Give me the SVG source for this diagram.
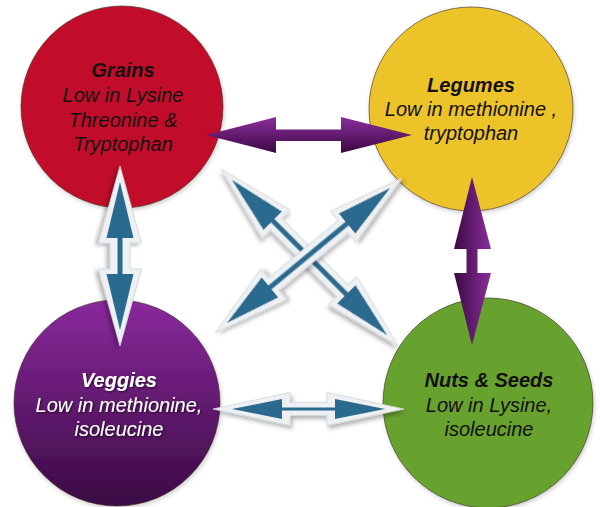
<svg xmlns="http://www.w3.org/2000/svg" width="600" height="507" viewBox="0 0 600 507">
  <defs>
    <style>
      .t { font-family: "Liberation Sans", Arial, sans-serif; font-style: italic; font-size: 20px; text-anchor: middle; }
      .b { font-weight: bold; }
      .dark { fill: #141010; }
      .light { fill: #ffffff; }
      .ring { stroke: #3a2a20; stroke-opacity: 0.6; stroke-width: 1; }
      .out { fill: #eef1f3; stroke: #cfd5d9; stroke-width: 0.8; stroke-linejoin: miter; }
      .in { fill: #2b6a8f; }
    </style>
    <linearGradient id="gVeg" x1="0" y1="0" x2="0" y2="1">
      <stop offset="0" stop-color="#8a2a9c"/>
      <stop offset="1" stop-color="#3a0a44"/>
    </linearGradient>
    <linearGradient id="gPH" x1="0" y1="0" x2="0" y2="1">
      <stop offset="0" stop-color="#8a2e9c"/>
      <stop offset="1" stop-color="#3c0842"/>
    </linearGradient>
    <linearGradient id="gPV" x1="0" y1="0" x2="1" y2="0">
      <stop offset="0" stop-color="#3c0842"/>
      <stop offset="1" stop-color="#8a2e9c"/>
    </linearGradient>
    <filter id="sh" x="-20%" y="-20%" width="140%" height="140%">
      <feDropShadow dx="2" dy="3" stdDeviation="2" flood-color="#000" flood-opacity="0.3"/>
    </filter>
    <filter id="csh" x="-10%" y="-10%" width="120%" height="120%">
      <feDropShadow dx="1" dy="2" stdDeviation="2" flood-color="#000" flood-opacity="0.2"/>
    </filter>
    <filter id="tsh" x="-10%" y="-30%" width="120%" height="160%">
      <feDropShadow dx="1" dy="1" stdDeviation="1" flood-color="#000" flood-opacity="0.7"/>
    </filter>
  </defs>
  <rect width="600" height="507" fill="#ffffff"/>

  <g id="grains">
    <circle cx="122" cy="107" r="101" fill="#c1112a" class="ring" filter="url(#csh)"/>
    <text class="t dark"><tspan class="b" x="123" y="77">Grains</tspan><tspan x="123" y="102">Low in Lysine</tspan><tspan x="123" y="127">Threonine &amp;</tspan><tspan x="123" y="151">Tryptophan</tspan></text>
  </g>
  <g id="legumes">
    <circle cx="471" cy="109" r="102" fill="#ecc42b" class="ring" filter="url(#csh)"/>
    <text class="t dark"><tspan class="b" x="471" y="92">Legumes</tspan><tspan x="471" y="116">Low in methionine ,</tspan><tspan x="471" y="140">tryptophan</tspan></text>
  </g>
  <g id="veggies">
    <circle cx="117" cy="403" r="103" fill="url(#gVeg)" class="ring" filter="url(#csh)"/>
    <text class="t light" filter="url(#tsh)"><tspan class="b" x="119" y="387">Veggies</tspan><tspan x="119" y="412">Low in methionine,</tspan><tspan x="119" y="436">isoleucine</tspan></text>
  </g>
  <g id="nuts">
    <circle cx="488" cy="403" r="105" fill="#67a22f" class="ring" filter="url(#csh)"/>
    <text class="t dark"><tspan class="b" x="489" y="387">Nuts &amp; Seeds</tspan><tspan x="489" y="412">Low in Lysine,</tspan><tspan x="489" y="436">isoleucine</tspan></text>
  </g>

  <g id="connectors">
    <polygon fill="url(#gPH)" points="206,135 276,117 276,129.5 341,129.5 341,117 412,135 341,153 341,141 276,141 276,153"/>
    <polygon fill="url(#gPV)" points="472,177 491,249 477.5,249 477.5,273 491,273 472,345 454,273 466.5,273 466.5,249 454,249"/>
    <g filter="url(#sh)" transform="translate(120,256) rotate(90)">
      <polygon class="out" points="-90,0 -13,-21.5 -13,-10 13,-10 13,-21.5 90,0 13,21.5 13,10 -13,10 -13,21.5"/>
      <polygon class="in" points="-74,0 -18,-13.5 -18,-2.5 18,-2.5 18,-13.5 74,0 18,13.5 18,2.5 -18,2.5 -18,13.5"/>
    </g>
    <g filter="url(#sh)" transform="translate(308.5,409)">
      <polygon class="out" points="-95.5,0 -18.5,-16.5 -18.5,-6.5 18.5,-6.5 18.5,-16.5 95.5,0 18.5,16.5 18.5,6.5 -18.5,6.5 -18.5,16.5"/>
      <polygon class="in" points="-76.5,0 -26.5,-10 -26.5,-1.5 26.5,-1.5 26.5,-10 76.5,0 26.5,10 26.5,1.5 -26.5,1.5 -26.5,10"/>
    </g>
    <g filter="url(#sh)" transform="translate(309.5,257.5) rotate(45)">
      <polygon class="out" points="-125,0 -47,-20 -47,-8 47,-8 47,-20 125,0 47,20 47,8 -47,8 -47,20"/>
      <polygon class="in" points="-110,0 -52,-13 -52,-2.5 52,-2.5 52,-13 110,0 52,13 52,2.5 -52,2.5 -52,13"/>
    </g>
    <g filter="url(#sh)" transform="translate(308.5,255.5) rotate(-39.6)">
      <polygon class="out" points="-121,0 -45,-20 -45,-8 45,-8 45,-20 121,0 45,20 45,8 -45,8 -45,20"/>
      <polygon class="in" points="-106,0 -50,-13 -50,-2.5 50,-2.5 50,-13 106,0 50,13 50,2.5 -50,2.5 -50,13"/>
    </g>
  </g>
</svg>
